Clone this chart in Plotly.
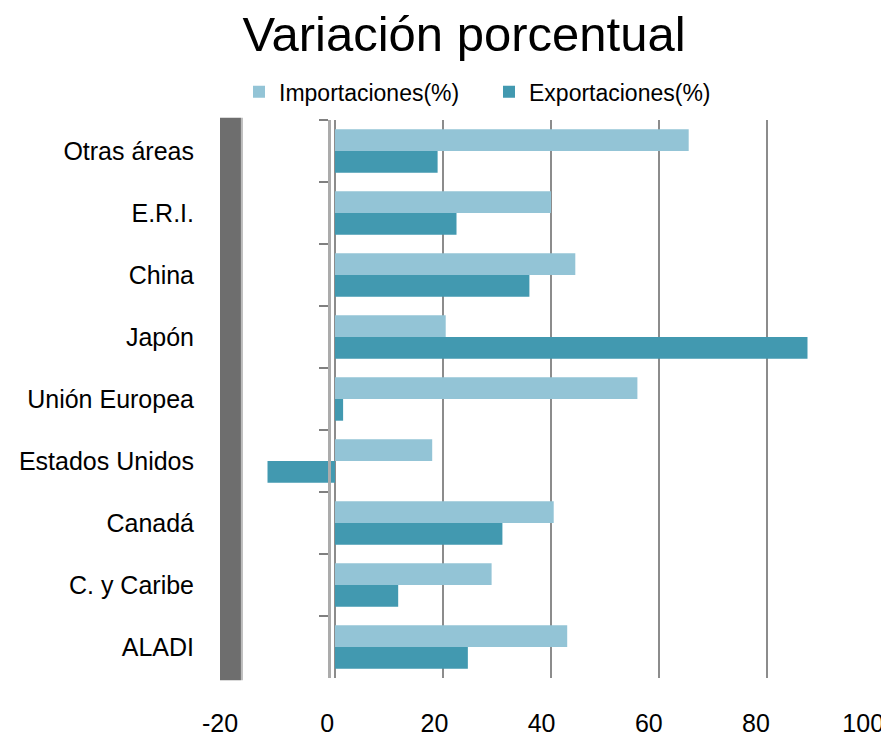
import plotly.graph_objects as go

categories = ["Otras áreas", "E.R.I.", "China", "Japón", "Unión Europea",
              "Estados Unidos", "Canadá", "C. y Caribe", "ALADI"]
importaciones = [65.5, 40, 44.5, 20.5, 56, 18, 40.5, 29, 43]
exportaciones = [19, 22.5, 36, 87.5, 1.5, -12.5, 31, 11.7, 24.6]
x_ticks = [-20, 0, 20, 40, 60, 80, 100]
x_tick_text = ["-20", "0", "20", "40", "60", "80", "100"]

FONT = "Liberation Sans, Arial, sans-serif"
C_IMP = "#93C4D6"
C_EXP = "#4299B0"

fig = go.Figure()
fig.add_trace(go.Bar(
    y=categories, x=importaciones, orientation="h", name="Importaciones(%)",
    marker=dict(color=C_IMP, line=dict(width=0)),
))
fig.add_trace(go.Bar(
    y=categories, x=exportaciones, orientation="h", name="Exportaciones(%)",
    marker=dict(color=C_EXP, line=dict(width=0)),
))
# helper trace for the front-plane axes (value labels and category axis at 0)
fig.add_trace(go.Scatter(
    y=categories, x=importaciones, xaxis="x2", yaxis="y2", mode="markers",
    marker=dict(opacity=0), showlegend=False, hoverinfo="skip",
))

fig.update_layout(
    width=881, height=728,
    paper_bgcolor="white", plot_bgcolor="rgba(0,0,0,0)",
    margin=dict(l=212, r=14, t=112, b=58, autoexpand=False),
    font=dict(family=FONT, color="black"),
    barmode="group", bargap=0.3, bargroupgap=0,
    title=dict(text="Variación porcentual", font=dict(size=49, family=FONT),
               x=0.5176, xanchor="center", xref="container",
               y=0.965, yanchor="middle", yref="container"),
    legend=dict(orientation="h", xref="container", yref="container",
                x=0.2622, xanchor="left", y=0.885, yanchor="middle",
                font=dict(size=23, family=FONT), itemwidth=30,
                entrywidth=205, entrywidthmode="pixels",
                bgcolor="rgba(0,0,0,0)"),
    # back plane: bars and gridlines
    xaxis=dict(range=[-20, 100], domain=[0.0107, 1], tickvals=x_ticks,
               showticklabels=False, ticks="", showline=False,
               automargin=False, showgrid=True, gridcolor="#8C8C8C",
               gridwidth=2, zeroline=False),
    yaxis=dict(type="category", categoryarray=categories, range=[8.5, -0.5],
               domain=[0, 1], anchor="free", position=0,
               ticks="", showgrid=False, zeroline=False, showline=False,
               automargin=False,
               tickfont=dict(size=25, family=FONT), ticklabelstandoff=26),
    # front plane: value labels
    xaxis2=dict(range=[-20, 100], domain=[0, 0.982], anchor="y2",
                side="bottom", tickvals=x_ticks,
                ticktext=x_tick_text, ticks="", showline=False,
                showgrid=False, zeroline=False, automargin=False,
                ticklabeloverflow="allow",
                tickfont=dict(size=25, family=FONT), ticklabelstandoff=28),
    # front plane: category axis at 0
    yaxis2=dict(type="category", categoryarray=categories, range=[8.5, -0.5],
                domain=[0, 1], anchor="free", side="left", position=0.1664,
                automargin=False, autoshift=False,
                tickson="boundaries", ticks="outside", ticklen=9, tickwidth=2,
                tickcolor="#808080", showticklabels=False, showgrid=False,
                zeroline=False, showline=True, linecolor="#ABABAB", linewidth=3),
    shapes=[
        dict(type="rect", xref="paper", yref="paper",
             x0=0, x1=0.032, y0=-0.004, y1=1.004,
             fillcolor="#6E6E6E", line=dict(width=0), layer="above"),
        dict(type="line", xref="paper", yref="paper",
             x0=0.0335, x1=0.0335, y0=-0.004, y1=1.004,
             line=dict(color="#BDBDBD", width=2), layer="above"),
    ],
)

fig.write_html("out.html")
